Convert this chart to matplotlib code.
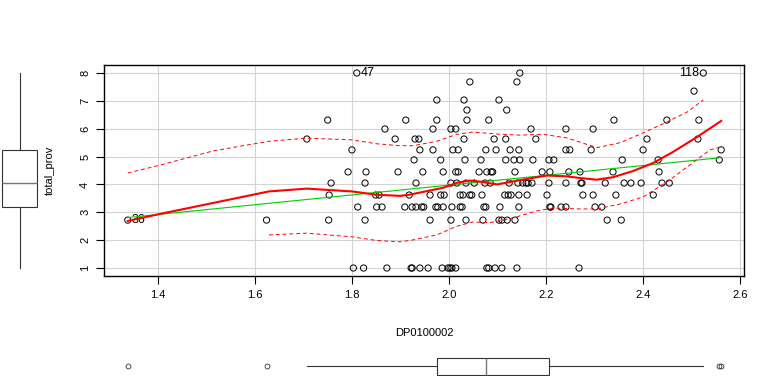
import numpy as np
import matplotlib
matplotlib.use("Agg")
import matplotlib.pyplot as plt

plt.rcParams['font.family'] = ['Liberation Sans', 'DejaVu Sans']

# total_prov levels and the DP0100002 values of the points on each level
prov_levels = [8.0, 7.68, 7.35, 7.03, 6.67, 6.31, 5.99, 5.63, 5.24, 4.88,
               4.45, 4.05, 3.62, 3.19, 2.72, 1.0]
dp_by_level = [
    [1.81, 2.146, 2.524],
    [2.043, 2.140],
    [2.505],
    [1.975, 2.031, 2.103],
    [2.037, 2.119],
    [1.75, 1.911, 1.975, 2.037, 2.082, 2.340, 2.449, 2.515],
    [1.868, 1.967, 2.004, 2.014, 2.169, 2.241, 2.297],
    [1.707, 1.889, 1.930, 1.938, 2.031, 2.093, 2.117, 2.179, 2.408, 2.513],
    [1.80, 1.940, 1.967, 2.008, 2.019, 2.076, 2.097, 2.126, 2.144, 2.241,
     2.249, 2.293, 2.400, 2.561],
    [1.928, 1.983, 2.033, 2.066, 2.117, 2.134, 2.146, 2.173, 2.206, 2.216,
     2.357, 2.431, 2.557],
    [1.792, 1.829, 1.895, 1.946, 1.988, 2.014, 2.019, 2.062, 2.078, 2.087,
     2.090, 2.136, 2.192, 2.208, 2.247, 2.270, 2.338, 2.433],
    [1.757, 1.827, 1.932, 2.004, 2.016, 2.035, 2.052, 2.074, 2.085, 2.124,
     2.142, 2.152, 2.159, 2.163, 2.171, 2.206, 2.241, 2.272, 2.274, 2.322,
     2.361, 2.375, 2.396, 2.439, 2.454],
    [1.753, 1.849, 1.856, 1.918, 1.961, 1.983, 1.990, 2.023, 2.029, 2.043,
     2.047, 2.068, 2.115, 2.122, 2.128, 2.144, 2.161, 2.202, 2.276, 2.297,
     2.344, 2.421],
    [1.812, 1.851, 1.862, 1.909, 1.924, 1.932, 1.944, 1.948, 1.973, 1.977,
     1.988, 2.006, 2.023, 2.027, 2.072, 2.076, 2.105, 2.144, 2.208, 2.210,
     2.231, 2.241, 2.301, 2.315],
    [1.338, 1.624, 1.752, 1.827, 1.961, 2.004, 2.035, 2.070, 2.103, 2.109,
     2.120, 2.136, 2.326, 2.355],
    [1.803, 1.824, 1.872, 1.922, 1.924, 1.940, 1.957, 1.986, 1.998, 2.002,
     2.006, 2.014, 2.078, 2.082, 2.095, 2.109, 2.140, 2.268],
]

# labelled points (id, x, y)
point_ids = ["47", "118", "36"]
point_x = [1.81, 2.524, 1.338]
point_y = [8.0, 8.0, 2.72]

# loess smoother and spread
smooth_x = [1.338, 1.404, 1.629, 1.707, 1.80, 1.851, 1.899, 1.918, 1.988, 2.016,
            2.043, 2.064, 2.099, 2.126, 2.167, 2.202, 2.243, 2.270, 2.305, 2.338,
            2.379, 2.421, 2.462, 2.511, 2.561]
smooth_y = [2.69, 2.94, 3.75, 3.85, 3.75, 3.63, 3.59, 3.63, 3.88, 4.06,
            4.14, 4.10, 4.00, 4.09, 4.22, 4.32, 4.29, 4.23, 4.17, 4.26,
            4.48, 4.77, 5.17, 5.70, 6.28]
upper_x = [1.338, 1.404, 1.513, 1.629, 1.707, 1.80, 1.851, 1.899, 1.926, 1.975,
           2.016, 2.049, 2.099, 2.146, 2.194, 2.243, 2.305, 2.353, 2.400, 2.449,
           2.491, 2.524]
upper_y = [4.41, 4.69, 5.20, 5.55, 5.66, 5.60, 5.46, 5.39, 5.39, 5.55,
           5.80, 5.88, 5.81, 5.77, 5.80, 5.67, 5.32, 5.50, 5.85, 6.24,
           6.60, 7.03]
lower_x = [1.629, 1.707, 1.80, 1.851, 1.899, 1.926, 1.975, 2.016, 2.049, 2.085,
           2.132, 2.181, 2.214, 2.270, 2.305, 2.353, 2.400, 2.449, 2.491, 2.538,
           2.561]
lower_y = [2.19, 2.25, 2.12, 1.99, 1.94, 2.01, 2.19, 2.50, 2.65, 2.63,
           2.80, 3.05, 3.15, 3.12, 3.12, 3.30, 3.55, 4.09, 4.63, 5.24,
           5.35]

dp = np.concatenate([np.array(v) for v in dp_by_level])
prov = np.concatenate([np.full(len(v), lv) for lv, v in zip(prov_levels, dp_by_level)])

W, H = 778, 376
fig = plt.figure(figsize=(W / 100, H / 100), dpi=100)

L, R, T, B = 104, 744, 65, 276
ax = fig.add_axes([L / W, (H - B) / H, (R - L) / W, (B - T) / H])
xlim = (1.289, 2.608)
ylim = (0.714, 8.287)

ax.grid(True, color='#d3d3d3', lw=0.8)
ax.set_axisbelow(True)
ax.scatter(dp, prov, s=20, facecolors='none', edgecolors='black', linewidths=0.7, zorder=3)

# linear fit
b, a = np.polyfit(dp, prov, 1)
fx = np.array([dp.min(), dp.max()])
ax.plot(fx, a + b * fx, color='#00cd00', lw=0.8, zorder=4)

ax.plot(smooth_x, smooth_y, color='red', lw=1.5, zorder=5)
ax.plot(upper_x, upper_y, color='red', lw=0.7, ls=(0, (4, 3)), zorder=5)
ax.plot(lower_x, lower_y, color='red', lw=0.7, ls=(0, (4, 3)), zorder=5)

for pid, px, py in zip(point_ids, point_x, point_y):
    if pid == "118":
        ax.annotate(pid, (px, py), xytext=(-3, 0), textcoords='offset points',
                    ha='right', va='center', fontsize=9)
    else:
        ax.annotate(pid, (px, py), xytext=(3, 0), textcoords='offset points',
                    ha='left', va='center', fontsize=9)

ax.set_xlim(xlim)
ax.set_ylim(ylim)
ax.set_xticks([1.4, 1.6, 1.8, 2.0, 2.2, 2.4, 2.6])
ax.set_yticks(range(1, 9))
ax.tick_params(direction='out', length=6, width=0.8, labelsize=8, pad=4)
ax.tick_params(axis='y', labelrotation=90)
for lab in ax.get_yticklabels():
    lab.set_va('center')
for sp in ax.spines.values():
    sp.set_linewidth(1.0)
ax.set_xlabel("DP0100002", fontsize=8, labelpad=20)
ax.set_ylabel("total_prov", fontsize=8, labelpad=18)

box_kw = dict(showcaps=False, patch_artist=True,
              boxprops=dict(facecolor='white', edgecolor='#333333', lw=0.8),
              medianprops=dict(color='#777777', lw=1.0),
              whiskerprops=dict(color='#333333', lw=0.8),
              flierprops=dict(marker='o', markersize=3.5, markerfacecolor='none',
                              markeredgecolor='#333333', markeredgewidth=0.6))

# left boxplot of total_prov
axl = fig.add_axes([0, (H - B) / H, 40 / W, (B - T) / H])
axl.boxplot(prov, positions=[0], widths=35, **box_kw)
axl.set_xlim(-19.5, 20.5)
axl.set_ylim(ylim)
axl.axis('off')

# bottom boxplot of DP0100002
axb = fig.add_axes([L / W, 0, (R - L) / W, 30 / H])
axb.boxplot(dp, positions=[0], widths=17, vert=False, **box_kw)
axb.set_xlim(xlim)
axb.set_ylim(-10, 20)
axb.axis('off')

fig.savefig("out.png", dpi=100)
